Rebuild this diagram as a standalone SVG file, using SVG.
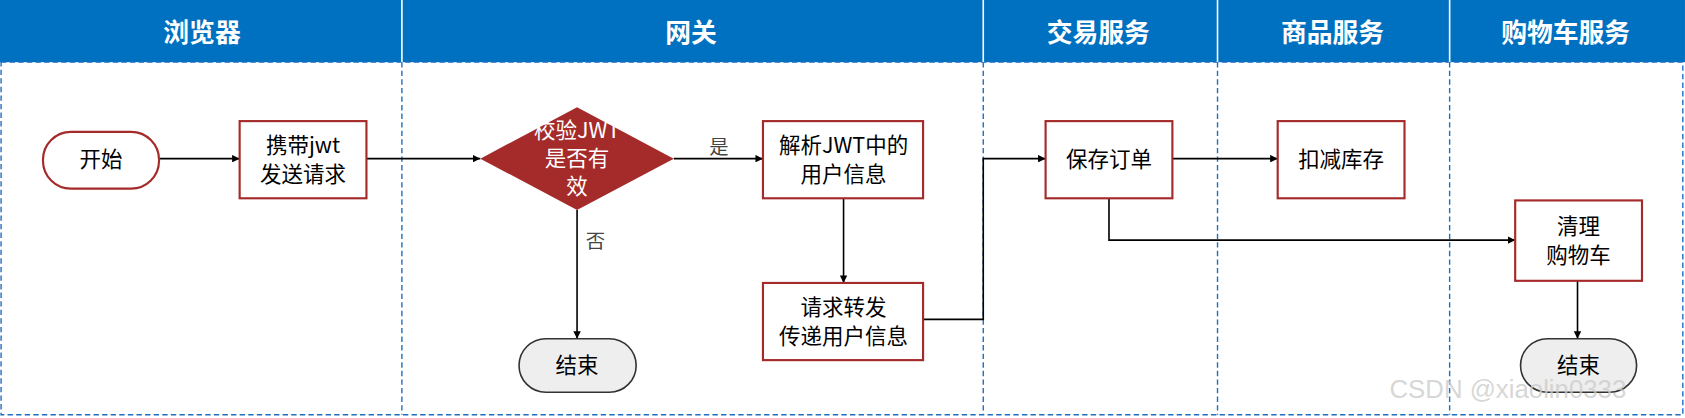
<svg xmlns="http://www.w3.org/2000/svg" width="1685" height="418" viewBox="0 0 1685 418">
<defs>
<marker id="ar" viewBox="0 0 10 10" refX="10" refY="5" markerWidth="7" markerHeight="7" orient="auto" markerUnits="userSpaceOnUse"><path d="M0,0L10,5L0,10z" fill="#000"/></marker>
<style>
.h{font-family:"Noto Sans CJK SC","Liberation Sans",sans-serif;font-weight:bold;font-size:24px;fill:#fff;text-anchor:middle}
.t{font-family:"Noto Sans CJK SC","Liberation Sans",sans-serif;font-size:20px;fill:#000;text-anchor:middle}
.box{fill:#fff;stroke:#A52A2A;stroke-width:2}
.end{fill:#eee;stroke:#333;stroke-width:1.5}
.ln{fill:none;stroke:#000;stroke-width:1.5}
.dv{stroke:#1F6FC0;stroke-width:1.3;stroke-dasharray:5,3}
.lb{font-family:"Noto Sans CJK SC","Liberation Sans",sans-serif;font-size:18px;fill:#444;text-anchor:middle}
</style>
</defs>
<g transform="scale(1.0746,1.0718)">
<rect x="0" y="0" width="1568" height="58" fill="#0070C0"/>
<rect x="1" y="58" width="1565" height="329" fill="none" class="dv" stroke-width="2"/>
<g stroke="#fff" stroke-width="1.5"><line x1="374" y1="0" x2="374" y2="58"/><line x1="915" y1="0" x2="915" y2="58"/><line x1="1133" y1="0" x2="1133" y2="58"/><line x1="1349" y1="0" x2="1349" y2="58"/></g>
<line class="dv" x1="374" y1="58" x2="374" y2="387"/><line class="dv" x1="915" y1="58" x2="915" y2="387"/><line class="dv" x1="1133" y1="58" x2="1133" y2="387"/><line class="dv" x1="1349" y1="58" x2="1349" y2="387"/>
<text class="h" x="188" y="39">浏览器</text><text class="h" x="643" y="39">网关</text><text class="h" x="1022" y="39">交易服务</text><text class="h" x="1240" y="39">商品服务</text><text class="h" x="1457" y="39">购物车服务</text>
<g id="connectors">
<line class="ln" x1="148" y1="148" x2="223" y2="148" marker-end="url(#ar)"/>
<line class="ln" x1="341" y1="148" x2="447" y2="148" marker-end="url(#ar)"/>
<line class="ln" x1="627" y1="148" x2="710" y2="148" marker-end="url(#ar)"/>
<text class="lb" x="669" y="144">是</text>
<line class="ln" x1="537" y1="196" x2="537" y2="316" marker-end="url(#ar)"/>
<text class="lb" x="554" y="231">否</text>
<line class="ln" x1="785" y1="185" x2="785" y2="264" marker-end="url(#ar)"/>
<polyline class="ln" points="859,298 915,298 915,148 973,148" marker-end="url(#ar)"/>
<line class="ln" x1="1091" y1="148" x2="1189" y2="148" marker-end="url(#ar)"/>
<polyline class="ln" points="1032,185 1032,224 1410,224" marker-end="url(#ar)"/>
<line class="ln" x1="1468" y1="262" x2="1468" y2="316" marker-end="url(#ar)"/>
</g>
<g id="start"><rect class="box" x="40" y="123" width="108" height="53" rx="26"/><text class="t" x="94" y="156">开始</text></g>
<g id="carry"><rect class="box" x="223" y="113" width="118" height="72"/><text class="t" x="282" y="143">携带jwt</text><text class="t" x="282" y="170">发送请求</text></g>
<g id="check"><polygon points="447,148 537,100 627,148 537,196" fill="#A52A2A"/><text class="t" fill="#fff" style="fill:#fff" x="537" y="129">校验JWT</text><text class="t" style="fill:#fff" x="537" y="155">是否有</text><text class="t" style="fill:#fff" x="537" y="181">效</text></g>
<g id="parse"><rect class="box" x="710" y="113" width="149" height="72"/><text class="t" x="785" y="143">解析JWT中的</text><text class="t" x="785" y="170">用户信息</text></g>
<g id="forward"><rect class="box" x="710" y="264" width="149" height="72"/><text class="t" x="785" y="294">请求转发</text><text class="t" x="785" y="321">传递用户信息</text></g>
<g id="end1"><rect class="end" x="483" y="316" width="109" height="50" rx="25"/><text class="t" x="537" y="348">结束</text></g>
<g id="save"><rect class="box" x="973" y="113" width="118" height="72"/><text class="t" x="1032" y="156">保存订单</text></g>
<g id="deduct"><rect class="box" x="1189" y="113" width="118" height="72"/><text class="t" x="1248" y="156">扣减库存</text></g>
<g id="clear"><rect class="box" x="1410" y="187" width="118" height="75"/><text class="t" x="1469" y="218">清理</text><text class="t" x="1469" y="245">购物车</text></g>
<g id="end2"><rect class="end" x="1415" y="316" width="108" height="50" rx="25"/><text class="t" x="1469" y="348">结束</text></g>
<text x="1293" y="371" font-family="Liberation Sans,sans-serif" font-size="24" fill="#ccc" fill-opacity="0.8">CSDN @xiaolin0333</text>
</g>
</svg>
